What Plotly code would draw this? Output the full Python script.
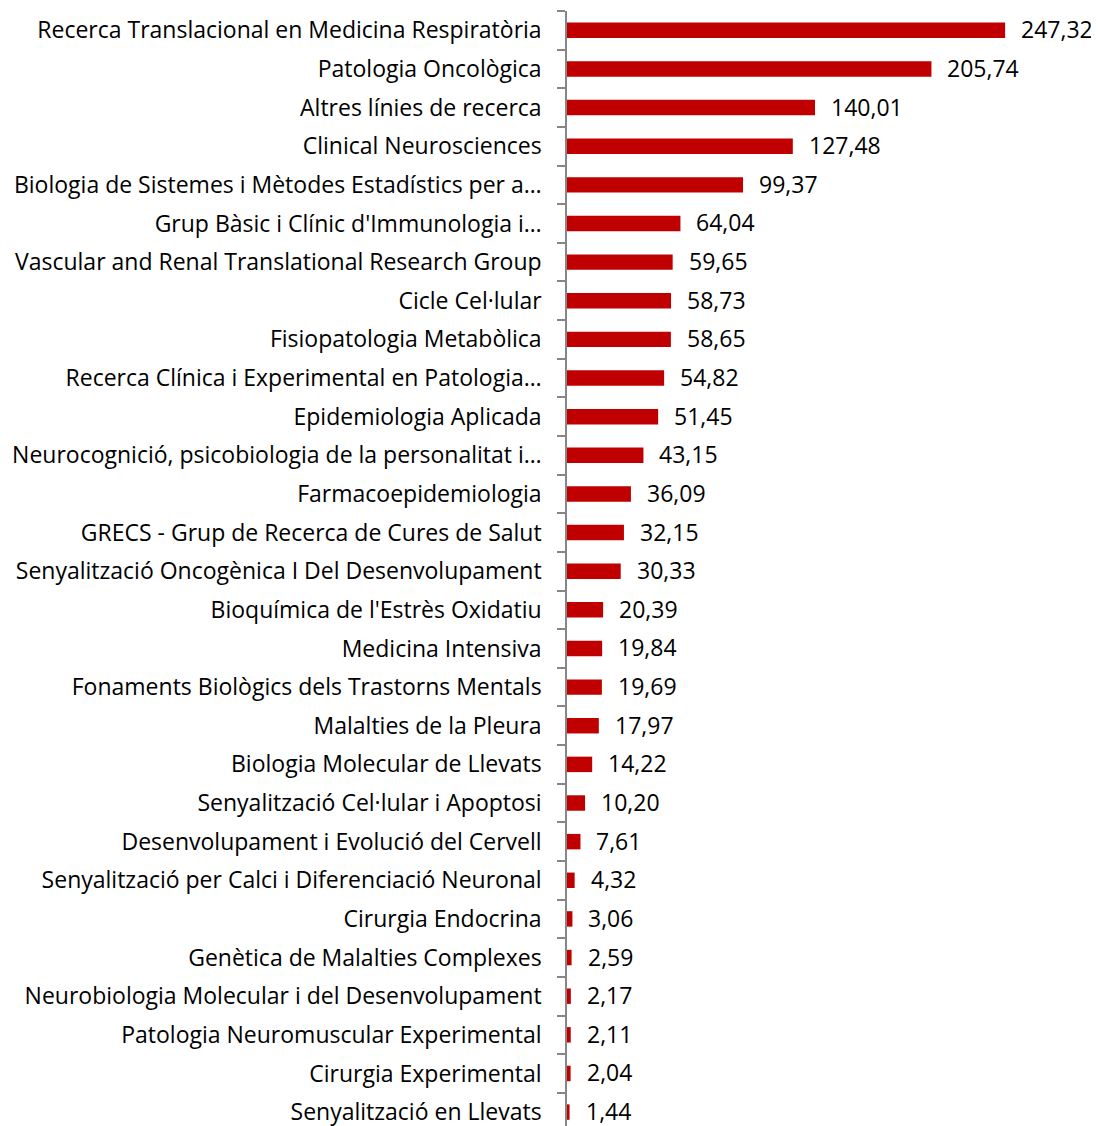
import plotly.graph_objects as go

categories = [
    "Recerca Translacional en Medicina Respiratòria",
    "Patologia Oncològica",
    "Altres línies de recerca",
    "Clinical Neurosciences",
    "Biologia de Sistemes i Mètodes Estadístics per a…",
    "Grup Bàsic i Clínic d'Immunologia i…",
    "Vascular and Renal Translational Research Group",
    "Cicle Cel·lular",
    "Fisiopatologia Metabòlica",
    "Recerca Clínica i Experimental en Patologia…",
    "Epidemiologia Aplicada",
    "Neurocognició, psicobiologia de la personalitat i…",
    "Farmacoepidemiologia",
    "GRECS - Grup de Recerca de Cures de Salut",
    "Senyalització Oncogènica I Del Desenvolupament",
    "Bioquímica de l'Estrès Oxidatiu",
    "Medicina Intensiva",
    "Fonaments Biològics dels Trastorns Mentals",
    "Malalties de la Pleura",
    "Biologia Molecular de Llevats",
    "Senyalització Cel·lular i Apoptosi",
    "Desenvolupament i Evolució del Cervell",
    "Senyalització per Calci i Diferenciació Neuronal",
    "Cirurgia Endocrina",
    "Genètica de Malalties Complexes",
    "Neurobiologia Molecular i del Desenvolupament",
    "Patologia Neuromuscular Experimental",
    "Cirurgia Experimental",
    "Senyalització en Llevats",
]
values = [247.32, 205.74, 140.01, 127.48, 99.37, 64.04, 59.65, 58.73, 58.65, 54.82,
          51.45, 43.15, 36.09, 32.15, 30.33, 20.39, 19.84, 19.69, 17.97, 14.22,
          10.20, 7.61, 4.32, 3.06, 2.59, 2.17, 2.11, 2.04, 1.44]
labels = [f"{v:.2f}".replace(".", ",") for v in values]

FONT = "Open Sans"
FS = 23

fig = go.Figure(go.Bar(
    x=values, y=categories, orientation="h",
    marker=dict(color="#C00000", line=dict(width=0)),
    hoverinfo="skip",
))

for c, v, t in zip(categories, values, labels):
    fig.add_annotation(x=v, y=c, text=t, xanchor="left", yanchor="middle",
                       xshift=14, yshift=1, showarrow=False,
                       font=dict(family=FONT, size=FS, color="#000000"))

# page body has an 8px margin, so figure is offset by 8px
fig.update_layout(
    width=1091, height=1118,
    margin=dict(l=559, r=36, t=3, b=0, autoexpand=False),
    paper_bgcolor="white", plot_bgcolor="white",
    bargap=0.6,
    showlegend=False,
    font=dict(family=FONT, size=FS, color="#000000"),
)
fig.update_xaxes(range=[0, 280], visible=False, showgrid=False, zeroline=False,
                 automargin=False)
fig.update_yaxes(
    type="category", range=[28.36, -0.5], automargin=False,
    showline=True, linecolor="#868686", linewidth=1.5,
    ticks="outside", tickson="boundaries", ticklen=8, tickcolor="#868686", tickwidth=1.5,
    ticklabelstandoff=19,
    showgrid=False, zeroline=False,
    tickfont=dict(family=FONT, size=FS, color="#000000"),
)

fig.write_html("out.html")
